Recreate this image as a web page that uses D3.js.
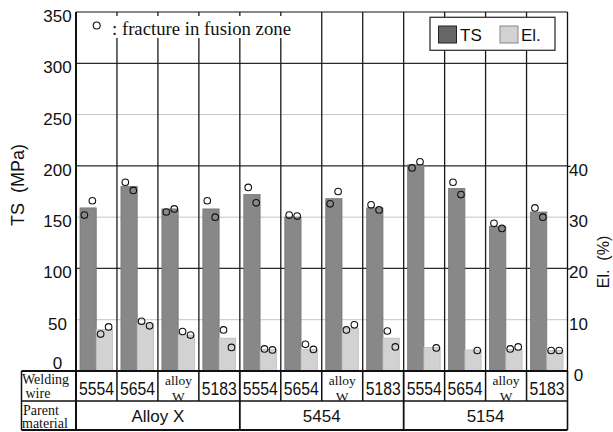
<!DOCTYPE html>
<html>
<head>
<meta charset="utf-8">
<script src="https://cdn.jsdelivr.net/npm/d3@7"></script>
<style>
  html, body { margin: 0; padding: 0; background: #fff; }
  svg { display: block; }
  text { white-space: pre; }
</style>
</head>
<body>
<svg id="chart" width="613" height="432"></svg>
<script>
// Welding wire used for each bar group, and the parent material of each block of four
const wires = ["5554", "5654", "alloy W", "5183", "5554", "5654", "alloy W", "5183", "5554", "5654", "alloy W", "5183"];
const parents = ["Alloy X", "5454", "5154"];

// Tensile strength (MPa): mean bar height and the individual specimens
const tsMean = [159, 180, 158, 158, 172, 150, 168, 159, 201, 178, 141, 155];
const tsPoints = [[152, 166], [184, 176], [155, 158], [166, 150], [179, 164], [152, 151],
                  [163, 175], [162, 157], [198, 204], [184, 172], [144, 139], [159, 150]];

// Elongation (%): mean bar height and the individual specimens (null = no second specimen)
const elMean = [8.1, 9.3, 7.0, 6.4, 4.2, 4.2, 8.3, 6.4, 4.6, 4.1, 4.2, 4.0];
const elPoints = [[7.2, 8.6], [9.7, 8.8], [7.7, 7.0], [8.0, 4.6], [4.3, 4.1], [5.2, 4.2],
                  [8.0, 9.0], [7.8, 4.7], [null, 4.5], [null, 4.0], [4.3, 4.7], [4.0, 4.0]];

const tsTicks = [0, 50, 100, 150, 200, 250, 300, 350];
const elTicks = [0, 10, 20, 30, 40];

const svg = d3.select("#chart");
const plotLeft = 76, plotRight = 567.5, plotTop = 12, plotBase = 371;
const sans = "'Liberation Sans', Arial, sans-serif";
const serif = "'Liberation Serif', 'Times New Roman', serif";

const x0 = d3.scaleBand().domain(d3.range(wires.length)).range([plotLeft, plotRight]);
const x1 = d3.scaleBand().domain(["TS", "El"]).range([4, 36.5]);
const y = d3.scaleLinear().domain([0, 350]).range([plotBase, plotTop]);
const yEl = d3.scaleLinear().domain([0, 70]).range([plotBase, plotTop]);
const bw = x0.bandwidth();

// horizontal grid: darker at every 100 MPa, light in between
svg.append("g").selectAll("line")
  .data(tsTicks.filter(t => t > 0 && t < 350))
  .join("line")
  .attr("x1", plotLeft).attr("x2", plotRight)
  .attr("y1", d => y(d)).attr("y2", d => y(d))
  .attr("stroke", d => d % 100 === 0 ? "#2a2a2a" : "#c4c4c4")
  .attr("stroke-width", d => d % 100 === 0 ? 1.3 : 1);

// vertical separators between bar groups
svg.append("g").selectAll("line")
  .data(d3.range(1, wires.length))
  .join("line")
  .attr("x1", d => x0(d)).attr("x2", d => x0(d))
  .attr("y1", plotTop).attr("y2", plotBase)
  .attr("stroke", "#1a1a1a").attr("stroke-width", 1.3);

// bars
const g = svg.append("g").selectAll("g")
  .data(d3.range(wires.length))
  .join("g")
  .attr("transform", i => `translate(${x0(i)},0)`);

g.append("rect")
  .attr("x", x1("TS")).attr("width", x1.bandwidth())
  .attr("y", i => y(tsMean[i])).attr("height", i => plotBase - y(tsMean[i]))
  .attr("fill", "#888888").attr("stroke", "#767676").attr("stroke-width", 0.8);

g.append("rect")
  .attr("x", x1("El")).attr("width", x1.bandwidth())
  .attr("y", i => yEl(elMean[i])).attr("height", i => plotBase - yEl(elMean[i]))
  .attr("fill", "#d2d2d2").attr("stroke", "#bcbcbc").attr("stroke-width", 0.8);

// specimen markers (fracture in fusion zone)
const slot = [0.27, 0.76];
g.each(function (i) {
  const gg = d3.select(this);
  tsPoints[i].forEach((v, k) => {
    if (v == null) return;
    gg.append("circle")
      .attr("cx", x1("TS") + x1.bandwidth() * slot[k]).attr("cy", y(v)).attr("r", 3.3)
      .attr("fill", "none").attr("stroke", "#111").attr("stroke-width", 1.1);
  });
  elPoints[i].forEach((v, k) => {
    if (v == null) return;
    gg.append("circle")
      .attr("cx", x1("El") + x1.bandwidth() * slot[k]).attr("cy", yEl(v)).attr("r", 3.3)
      .attr("fill", "none").attr("stroke", "#111").attr("stroke-width", 1.1);
  });
});

// plot frame
svg.append("line").attr("x1", plotLeft).attr("x2", plotRight).attr("y1", plotTop).attr("y2", plotTop)
  .attr("stroke", "#111").attr("stroke-width", 1.2);
svg.append("line").attr("x1", plotRight).attr("x2", plotRight).attr("y1", plotTop).attr("y2", plotBase)
  .attr("stroke", "#111").attr("stroke-width", 1.3);
svg.append("line").attr("x1", plotLeft).attr("x2", plotLeft).attr("y1", plotTop).attr("y2", plotBase)
  .attr("stroke", "#111").attr("stroke-width", 2);

// fracture note, on a white patch over the grid
svg.append("rect").attr("x", plotLeft + 1.5).attr("y", 16).attr("width", 224).attr("height", 22).attr("fill", "#fff");
svg.append("circle").attr("cx", 96.7).attr("cy", 25.5).attr("r", 3.5)
  .attr("fill", "none").attr("stroke", "#111").attr("stroke-width", 1.1);
svg.append("text").attr("x", 112).attr("y", 34.5)
  .attr("font-family", serif).attr("font-size", 18).attr("fill", "#111")
  .attr("textLength", 179).attr("lengthAdjust", "spacingAndGlyphs")
  .text(": fracture in fusion zone");

// legend
const lg = svg.append("g");
lg.append("rect").attr("x", 430).attr("y", 17.3).attr("width", 125).attr("height", 33)
  .attr("fill", "#fff").attr("stroke", "#333").attr("stroke-width", 1.3);
lg.append("rect").attr("x", 438.5).attr("y", 26).attr("width", 18).attr("height", 17)
  .attr("fill", "#666").attr("stroke", "#222").attr("stroke-width", 1);
lg.append("text").attr("x", 460).attr("y", 41).attr("font-family", sans).attr("font-size", 17)
  .attr("fill", "#111").text("TS");
lg.append("rect").attr("x", 500).attr("y", 26).attr("width", 18).attr("height", 17)
  .attr("fill", "#d2d2d2").attr("stroke", "#888").attr("stroke-width", 1);
lg.append("text").attr("x", 521).attr("y", 41).attr("font-family", sans).attr("font-size", 17)
  .attr("fill", "#111").text("El.");

// left axis (TS)
const axL = svg.append("g").attr("transform", `translate(${plotLeft},0)`)
  .call(d3.axisLeft(y).tickValues(tsTicks).tickSize(0).tickFormat(d3.format("d")));
axL.select(".domain").remove();
axL.selectAll("text")
  .attr("x", -18.5).attr("text-anchor", "middle")
  .attr("dy", "0.35em")
  .attr("y", d => d === 0 ? -8.5 : 3.5)
  .attr("font-family", sans).attr("font-size", 17).attr("fill", "#111");

// right axis (El.)
const axR = svg.append("g").attr("transform", `translate(${plotRight},0)`)
  .call(d3.axisRight(yEl).tickValues(elTicks).tickSize(0).tickFormat(d3.format("d")));
axR.select(".domain").remove();
axR.selectAll("text")
  .attr("x", 11).attr("text-anchor", "middle")
  .attr("dy", "0.35em").attr("y", 3.5)
  .attr("font-family", sans).attr("font-size", 17).attr("fill", "#111");
axR.selectAll(".tick line")
  .attr("x2", d => d % 20 === 0 && d > 0 ? 3 : 0)
  .attr("stroke", "#111").attr("stroke-width", 1.3);

// axis titles
svg.append("text").attr("transform", "translate(23.5,185) rotate(-90)")
  .attr("text-anchor", "middle").attr("font-family", sans).attr("font-size", 18).attr("fill", "#111")
  .text("TS  (MPa)");
svg.append("text").attr("transform", "translate(608.5,262) rotate(-90)")
  .attr("text-anchor", "middle").attr("font-family", sans).attr("font-size", 16).attr("fill", "#111")
  .text("El.  (%)");

// table beneath the plot: welding wire and parent material
const tLeft = 21.5, r1 = plotBase, r2 = 401, r3 = 430;
const tb = svg.append("g");

tb.selectAll("g.wire")
  .data(wires)
  .join("g")
  .attr("class", "wire")
  .each(function (w, i) {
    const cx = x0(i) + bw / 2;
    const sel = d3.select(this);
    if (w.startsWith("alloy")) {
      const parts = w.split(" ");
      sel.append("text").attr("x", cx).attr("y", 385).attr("text-anchor", "middle")
        .attr("font-family", serif).attr("font-size", 13.5).attr("fill", "#111").text(parts[0]);
      sel.append("text").attr("x", cx).attr("y", 401).attr("text-anchor", "middle")
        .attr("font-family", serif).attr("font-size", 13.5).attr("fill", "#111").text(parts[1]);
    } else {
      sel.append("text").attr("x", cx).attr("y", 394.5).attr("text-anchor", "middle")
        .attr("font-family", sans).attr("font-size", 18).attr("fill", "#111")
        .attr("textLength", 35).attr("lengthAdjust", "spacingAndGlyphs").text(w);
    }
  });

tb.selectAll("text.parent")
  .data(parents)
  .join("text")
  .attr("class", "parent")
  .attr("x", (p, k) => (x0(k * 4) + x0(k * 4 + 3) + bw) / 2)
  .attr("y", 421.5).attr("text-anchor", "middle")
  .attr("font-family", sans).attr("font-size", 17).attr("fill", "#111")
  .text(p => p);

const rowHead = [["Welding", 22, 384], [" wire", 22, 398], ["Parent", 23, 414.5], ["material", 22, 428]];
tb.selectAll("text.head")
  .data(rowHead)
  .join("text")
  .attr("class", "head")
  .attr("x", d => d[1]).attr("y", d => d[2])
  .attr("font-family", serif).attr("font-size", 14).attr("fill", "#111")
  .text(d => d[0]);

// table rules
const rule = (xa, ya, xb, yb, w) => tb.append("line")
  .attr("x1", xa).attr("y1", ya).attr("x2", xb).attr("y2", yb)
  .attr("stroke", "#111").attr("stroke-width", w);
rule(tLeft, r1, plotRight, r1, 2);
rule(tLeft, r2, plotRight, r2, 1.6);
rule(tLeft, r3, plotRight, r3, 2);
rule(tLeft, r1, tLeft, r3, 1.5);
rule(plotRight, r1, plotRight, r3, 1.6);
rule(plotLeft, r1, plotLeft, r3, 2);
d3.range(1, wires.length).forEach(i => {
  rule(x0(i), r1, x0(i), i % 4 === 0 ? r3 : r2, i % 4 === 0 ? 1.8 : 1.5);
});
</script>
</body>
</html>
